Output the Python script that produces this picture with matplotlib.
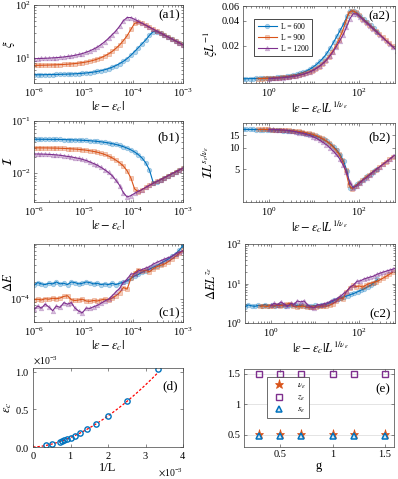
import numpy as np
import matplotlib.pyplot as plt
import matplotlib.colors as mc
from matplotlib.ticker import FixedLocator, LogLocator, NullFormatter, FixedFormatter, NullLocator

plt.rcParams['font.family'] = ['Liberation Serif', 'DejaVu Serif']
plt.rcParams['mathtext.fontset'] = 'stix'
plt.rcParams['font.size'] = 7.5
plt.rcParams['axes.unicode_minus'] = True

# ---- data -------------------------------------------------------------
L_sizes = [600, 900, 1200]
labels = ['L = 600', 'L = 900', 'L = 1200']
colors = ['#0072BD', '#D95319', '#7E2F8E']
markers = ['o', 's', '^']

eps = np.logspace(-6, -3, 41)   # |eps - eps_c| grid

xi_600 = [4.85, 4.86, 4.87, 4.88, 4.90, 4.91, 4.93, 4.95, 4.97, 5.00, 5.03, 5.07, 5.12, 5.18,
          5.25, 5.35, 5.47, 5.62, 5.80, 6.05, 6.35, 6.75, 7.25, 7.9, 8.7, 9.8, 11.3, 13.3, 15.7,
          18.6, 22.0, 27.0, 31.5, 31.2, 29.6, 27.2, 25.0, 23.0, 21.1, 19.4, 17.8]
xi_900 = [7.30, 7.32, 7.35, 7.38, 7.41, 7.45, 7.49, 7.55, 7.60, 7.68, 7.78, 7.90, 8.05, 8.23,
          8.45, 8.74, 9.11, 9.6, 10.2, 11.0, 12.0, 13.4, 15.3, 17.8, 21.4, 26.4, 34.6, 45.0,
          47.5, 45.3, 41.6, 38.2, 35.1, 32.3, 29.6, 27.2, 25.0, 23.0, 21.1, 19.4, 17.8]
xi_1200 = [9.76, 9.81, 9.87, 9.93, 10.0, 10.1, 10.2, 10.35, 10.5, 10.75, 10.95, 11.3, 11.7,
           12.2, 12.9, 13.7, 14.8, 16.1, 18.0, 20.4, 23.6, 27.7, 32.6, 40.0, 50.6, 58.0, 58.0,
           53.7, 49.3, 45.3, 41.6, 38.2, 35.1, 32.3, 29.6, 27.2, 25.0, 23.0, 21.1, 19.4, 17.8]

I_600 = [0.0447, 0.0447, 0.0446, 0.0446, 0.0445, 0.0444, 0.0443, 0.0442, 0.0440, 0.0438,
         0.0436, 0.0433, 0.0430, 0.0427, 0.0423, 0.0418, 0.0413, 0.0406, 0.0399, 0.0390,
         0.0380, 0.0368, 0.0355, 0.0340, 0.0322, 0.0302, 0.0280, 0.0255, 0.0227, 0.0195,
         0.0158, 0.0115, 0.0066, 0.00690, 0.00750, 0.00820, 0.00895, 0.00975, 0.01060,
         0.01152, 0.0125]
I_900 = [0.0306, 0.0306, 0.0305, 0.0305, 0.0304, 0.0303, 0.0302, 0.0300, 0.0298, 0.0296,
         0.0293, 0.0290, 0.0286, 0.0281, 0.0276, 0.0269, 0.0261, 0.0252, 0.0241, 0.0228,
         0.0213, 0.0196, 0.0177, 0.0158, 0.0137, 0.0111, 0.0081, 0.0050, 0.00440, 0.00485,
         0.00535, 0.00585, 0.00640, 0.00695, 0.00755, 0.00820, 0.00895, 0.00975, 0.01060,
         0.01152, 0.0125]
I_1200 = [0.0233, 0.0233, 0.0232, 0.0231, 0.0229, 0.0227, 0.0224, 0.0220, 0.0215, 0.0209,
          0.0205, 0.0198, 0.0192, 0.0184, 0.0175, 0.0164, 0.0153, 0.0142, 0.0129, 0.0116,
          0.0103, 0.0089, 0.0073, 0.0058, 0.0042, 0.0035, 0.0037, 0.00410, 0.00450, 0.00485,
          0.00535, 0.00585, 0.00640, 0.00695, 0.00755, 0.00820, 0.00895, 0.00975, 0.01060,
          0.01152, 0.0125]

# energy gap, in units of 1e-4
dE_600 = [1.75, 1.95, 1.85, 1.8, 1.9, 1.85, 2.0, 1.85, 1.9, 1.8, 2.0, 1.95, 1.85, 1.9, 2.0,
          1.95, 1.85, 1.9, 1.8, 1.85, 1.8, 1.9, 1.8, 1.9, 1.96, 2.1, 2.3, 2.55, 2.7, 2.95,
          3.15, 3.35, 3.6, 3.85, 4.2, 4.6, 5.0, 5.6, 6.2, 7.2, 8.6]
dE_900 = [0.98, 1.0, 0.97, 1.02, 1.0, 1.04, 1.02, 1.05, 1.12, 1.15, 0.98, 0.95, 0.97, 1.0,
          0.93, 0.92, 0.95, 0.93, 0.97, 1.0, 0.98, 1.05, 1.15, 1.3, 1.6, 1.5, 2.3, 2.9, 3.3,
          3.1, 3.2, 3.0, 3.4, 3.7, 3.9, 4.1, 4.5, 5.0, 5.6, 6.3, 7.1]
dE_1200 = [0.67, 0.76, 0.70, 0.82, 0.73, 0.63, 0.76, 0.72, 0.87, 0.82, 0.87, 0.70, 0.62,
           0.58, 0.70, 0.69, 0.74, 0.78, 0.85, 0.93, 1.0, 1.15, 1.35, 1.55, 1.96, 2.24, 2.74,
           2.8, 3.1, 3.3, 3.5, 3.7, 4.1, 4.4, 4.7, 5.0, 5.3, 5.6, 6.2, 6.6, 7.05]

# critical exponents used for the collapse
nu_e = 0.513
s_over_nu = 0.94
z_e = 1.5

# (d) critical point vs 1/L
L_d = [300, 400, 500, 600, 700, 800, 900, 1000, 1100, 1200, 1300, 1400, 2000, 3000]
epsc_d = [1.04e-3, 0.61e-3, 0.41e-3, 0.30e-3, 0.235e-3, 0.18e-3, 0.145e-3, 0.125e-3,
          0.105e-3, 0.09e-3, 0.08e-3, 0.07e-3, 0.04e-3, 0.02e-3]

# (e) exponents vs g
g_vals = [0.3, 0.5, 0.7, 1.0, 1.2, 1.5]
nu_vals = [0.515, 0.515, 0.51, 0.51, 0.515, 0.515]
z_vals = [1.5, 1.5, 1.5, 1.5, 1.5, 1.5]
s_vals = [0.48, 0.48, 0.48, 0.48, 0.48, 0.48]

xi = [xi_600, xi_900, xi_1200]
Iv = [I_600, I_900, I_1200]
dE = [np.array(d) * 1e-4 for d in (dE_600, dE_900, dE_1200)]

# ---- figure -----------------------------------------------------------
W, H = 398, 479
fig = plt.figure(figsize=(W / 100, H / 100), dpi=100)


def add_ax(l, r, t, b):
    return fig.add_axes([l / W, 1 - b / H, (r - l) / W, (b - t) / H])


def style(ax):
    ax.tick_params(which='both', direction='in', top=True, right=True, width=0.4,
                   labelsize=7.5, pad=2.5, color='0.2')
    ax.tick_params(which='major', length=2.5)
    ax.tick_params(which='minor', length=1.4)
    for s in ax.spines.values():
        s.set_linewidth(0.5)
        s.set_color('0.25')


def light(c, a=0.3):
    r, g, b = mc.to_rgb(c)
    return (r, g, b, a)


def draw(ax, xs, ys):
    for x, y, c, m in zip(xs, ys, colors, markers):
        ax.plot(x, y, '-', color=c, lw=0.8, marker=m, ms=3.2, mew=0.6, mfc=light(c))


def ylab(ax, txt, x):
    ax.set_ylabel(txt, fontsize=LAB, va='center')
    ax.yaxis.set_label_coords(x, 0.5)


def panel_label(ax, txt, x, y, va='top'):
    ax.text(x, y, txt, transform=ax.transAxes, ha='right', va=va, fontsize=9.5)


xl1 = r'$|\varepsilon-\varepsilon_c|$'
xl2 = r'$|\varepsilon-\varepsilon_c|L^{1/\nu_\varepsilon}$'
LAB = 9

ax_a1 = add_ax(34, 183, 5, 83)
ax_a2 = add_ax(243, 395, 6, 83)
ax_b1 = add_ax(34, 183, 121, 202)
ax_b2 = add_ax(243, 395, 123, 202)
ax_c1 = add_ax(34, 183, 244, 322)
ax_c2 = add_ax(245, 395, 244, 323)
ax_d = add_ax(33, 183, 368, 447)
ax_e = add_ax(244, 394, 369, 447)

# left column: raw data
for ax, ys, yl in [(ax_a1, xi, r'$\xi$'), (ax_b1, Iv, r'$\mathcal{I}$'),
                   (ax_c1, dE, r'$\Delta E$')]:
    draw(ax, [eps] * 3, ys)
    ax.set_xscale('log')
    ax.set_yscale('log')
    ax.set_xlim(1e-6, 1e-3)
    ax.set_xlabel(xl1, fontsize=LAB, labelpad=0.5)
    ylab(ax, yl, -0.17)
    ax.yaxis.set_minor_formatter(NullFormatter())
    ax.xaxis.set_minor_formatter(NullFormatter())
    style(ax)

ax_a1.set_ylim(3.4, 100)
ax_b1.set_ylim(0.0028, 0.1)
ax_c1.set_ylim(4.0e-5, 9.2e-4)
ax_c1.yaxis.set_major_locator(FixedLocator([1e-4]))

# right column: scaling collapse
xs_c = [eps * L ** (1 / nu_e) for L in L_sizes]
ya2 = [np.array(y) / L for y, L in zip(xi, L_sizes)]
yb2 = [np.array(y) * L ** s_over_nu for y, L in zip(Iv, L_sizes)]
yc2 = [y * L ** z_e for y, L in zip(dE, L_sizes)]

for ax, ys, yl, lx in [(ax_a2, ya2, r'$\xi L^{-1}$', -0.21),
                       (ax_b2, yb2, r'$\mathcal{I}L^{s_\varepsilon/\nu_\varepsilon}$', -0.225),
                       (ax_c2, yc2, r'$\Delta E L^{z_\varepsilon}$', -0.225)]:
    draw(ax, xs_c, ys)
    ax.set_xscale('log')
    ax.set_yscale('log')
    ax.set_xlim(0.26, 650)
    ax.xaxis.set_major_locator(FixedLocator([1, 100]))
    ax.xaxis.set_minor_locator(LogLocator(subs=np.arange(1, 10), numticks=20))
    ax.xaxis.set_minor_formatter(NullFormatter())
    ax.yaxis.set_minor_formatter(NullFormatter())
    ax.set_xlabel(xl2, fontsize=LAB, labelpad=0.5)
    ylab(ax, yl, lx)
    style(ax)

ax_a2.set_ylim(0.0072, 0.06)
ax_a2.yaxis.set_major_locator(FixedLocator([0.02, 0.04, 0.06]))
ax_a2.yaxis.set_major_formatter(FixedFormatter(['0.02', '0.04', '0.06']))
ax_a2.yaxis.set_minor_locator(NullLocator())
ax_b2.set_ylim(1.72, 22.5)
ax_b2.yaxis.set_major_locator(FixedLocator([5, 10, 15]))
ax_b2.yaxis.set_major_formatter(FixedFormatter(['5', '10', '15']))
ax_b2.yaxis.set_minor_locator(NullLocator())
ax_c2.set_ylim(1, 100)

leg = ax_a2.legend(labels, loc='lower left', bbox_to_anchor=(0.05, 0.30), fontsize=5.5,
                   fancybox=False, edgecolor='k', framealpha=1, handlelength=2.5,
                   borderpad=0.45, labelspacing=0.4, handletextpad=0.5)
leg.get_frame().set_linewidth(0.5)

panel_label(ax_a1, '(a1)', 0.98, 0.95)
panel_label(ax_a2, '(a2)', 0.97, 0.95)
panel_label(ax_b1, '(b1)', 0.98, 0.87)
panel_label(ax_b2, '(b2)', 0.97, 0.89)
panel_label(ax_c1, '(c1)', 0.98, 0.04, va='bottom')
panel_label(ax_c2, '(c2)', 0.97, 0.04, va='bottom')

# (d)
inv_L = 1 / np.array(L_d)
p = np.polyfit(np.log(inv_L), np.log(epsc_d), 1)
xf = np.linspace(0, inv_L.max(), 200)
ax_d.plot(xf, np.exp(p[1]) * xf ** p[0], '--', color='red', lw=0.9, dashes=(2, 1.5))
ax_d.plot(inv_L, epsc_d, 'o', ms=3.8, mfc='none', mec='#0072BD', mew=1.0)
ax_d.set_xlim(0, 4e-3)
ax_d.set_ylim(0, 1.05e-3)
ax_d.set_xticks([0, 1e-3, 2e-3, 3e-3, 4e-3])
ax_d.set_yticks([0, 0.5e-3, 1e-3])
ax_d.ticklabel_format(style='sci', scilimits=(0, 0), useMathText=True)
ax_d.xaxis.get_offset_text().set_fontsize(7)
ax_d.yaxis.get_offset_text().set_fontsize(7)
ax_d.set_xlabel('1/L', fontsize=LAB, labelpad=0.5)
ylab(ax_d, r'$\varepsilon_c$', -0.165)
style(ax_d)
panel_label(ax_d, '(d)', 0.967, 0.85)

# (e)
ax_e.yaxis.grid(True, color='0.85', lw=0.5)
ax_e.set_axisbelow(True)
ax_e.plot(g_vals, nu_vals, '*', ms=6.5, color='#D95319', mec='#D95319', mew=0.5,
          label=r'$\nu_\varepsilon$', ls='none')
ax_e.plot(g_vals, z_vals, 's', ms=3.8, mfc='none', mec='#7E2F8E', mew=1.0,
          label=r'$z_\varepsilon$', ls='none')
ax_e.plot(g_vals, s_vals, '^', ms=5, mfc='#d9ecf8', mec='#0072BD', mew=1.1,
          label=r'$s_\varepsilon$', ls='none')
ax_e.set_xlim(0.157, 1.585)
ax_e.set_ylim(0.30, 1.58)
ax_e.set_xticks([0.5, 1, 1.5])
ax_e.set_xticklabels(['0.5', '1', '1.5'])
ax_e.set_yticks([0.5, 1, 1.5])
ax_e.set_yticklabels(['0.5', '1', '1.5'])
ax_e.set_xlabel('g', fontsize=LAB, labelpad=0.5)
style(ax_e)
leg = ax_e.legend(loc='lower left', bbox_to_anchor=(0.125, 0.31), fontsize=6.5,
                  fancybox=False, edgecolor='0.2', framealpha=1, handlelength=2.0,
                  borderpad=0.35, labelspacing=0.3, handletextpad=0.9)
leg.get_frame().set_linewidth(0.5)
panel_label(ax_e, '(e)', 0.973, 0.82)

fig.savefig('out.png', dpi=100)
